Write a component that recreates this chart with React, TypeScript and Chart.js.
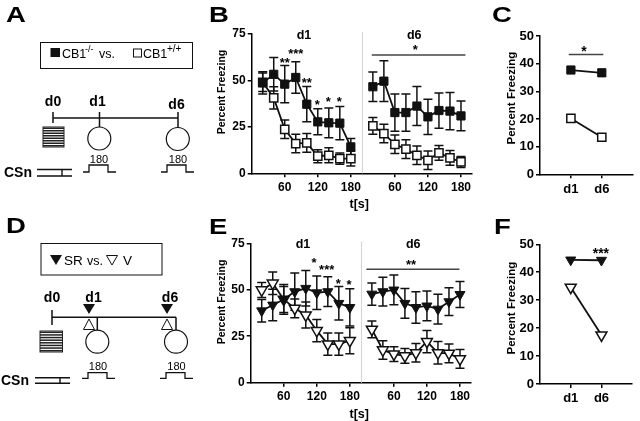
import React, { useEffect, useRef } from "react";
import Chart from "chart.js/auto";

const FONT = "'Liberation Sans', Arial, Helvetica, sans-serif";

// ---------- data ----------
const timeBins = [20, 40, 60, 80, 100, 120, 140, 160, 180];
const dayOffset = 200; // d6 time axis starts after d1 segment
const xTickValues = [60, 120, 180, 260, 320, 380];

// Panel B: CB1-/- (filled squares) vs CB1+/+ (open squares)
const bKoD1 = [48.7, 53.3, 48, 51.6, 37.2, 27.7, 27.2, 27, 14.2];
const bKoD1Err = [6, 9, 10, 8.5, 9.5, 7, 8, 9, 4.5];
const bWtD1 = [49, 40.6, 23.7, 16, 16.4, 9.2, 9.7, 7.9, 7.9];
const bWtD1Err = [5, 6, 5, 5, 5, 3.5, 4, 3, 4];
const bKoD6 = [46.6, 49.6, 32.7, 32.7, 36.2, 30.4, 33.8, 33.5, 30.9];
const bKoD6Err = [8, 11, 10, 10, 10.5, 9.5, 9.5, 10, 8];
const bWtD6 = [25.5, 21.4, 15.6, 13, 9.7, 7, 11, 8.3, 6.1];
const bWtD6Err = [4.5, 5, 5, 5, 5, 5, 4, 4, 3];

// Panel E: SR (filled triangles) vs V (open triangles)
const eSrD1 = [38.7, 41.8, 44.8, 49, 50.8, 48.4, 49, 42.7, 40.5];
const eSrD1Err = [6, 8.5, 7, 10, 9.5, 9, 8, 9, 10];
const eVD1 = [49.9, 53.5, 44.8, 40, 36.4, 28, 20.8, 20.8, 22.6];
const eVD1Err = [4, 6, 8, 5, 7, 6, 6, 6, 7];
const eSrD6 = [47.7, 49, 49.9, 42.7, 40.5, 41.3, 39.6, 43.6, 47.5];
const eSrD6Err = [6, 7.7, 8, 8, 8.5, 8, 8, 7.5, 7];
const eVD6 = [28.7, 17.6, 15.4, 14.4, 16.1, 22.1, 16.1, 15.8, 12.8];
const eVD6Err = [4.5, 5, 4, 4, 5, 6, 6, 5, 5];

// Panels C / F: mean freezing per day
const dayCats = ["d1", "d6"];
const dayPos = [1, 2];
const cKo = [37.7, 36.7];
const cWt = [20.2, 13.4];
const fSr = [44.4, 44.3];
const fV = [34.6, 17.5];

// significance annotations (data units)
const bStars = [
  { x: 60, y: 61.5, text: "**" },
  { x: 80, y: 66.2, text: "***" },
  { x: 100, y: 50.7, text: "**" },
  { x: 119, y: 38.6, text: "*" },
  { x: 139, y: 40.5, text: "*" },
  { x: 159, y: 40.1, text: "*" },
  { x: 297, y: 68.3, text: "*" },
];
const bSigLines = [{ x1: 218, x2: 388, y: 63.7 }];
const eStars = [
  { x: 115, y: 66.4, text: "*" },
  { x: 138, y: 62.4, text: "***" },
  { x: 159, y: 55.2, text: "*" },
  { x: 178.5, y: 54.7, text: "*" },
  { x: 291, y: 65.1, text: "**" },
];
const eSigLines = [{ x1: 210, x2: 379, y: 61 }];
const dayLabels = [
  { x: 95, text: "d1" },
  { x: 295, text: "d6" },
];
const cStars = [{ x: 1.42, y: 45.5, text: "*" }];
const cSigLines = [{ x1: 0.93, x2: 2.05, y: 43.3 }];
const fStars = [{ x: 1.98, y: 48, text: "***" }];

// ---------- helpers ----------
type Pt = { x: number; y: number | null };
function pairSeries(d1: number[], d6: number[]): Pt[] {
  return [
    ...timeBins.map((t, i) => ({ x: t, y: d1[i] })),
    { x: dayOffset, y: null },
    ...timeBins.map((t, i) => ({ x: t + dayOffset, y: d6[i] })),
  ];
}
function pairErr(e1: number[], e6: number[]) {
  return [...e1, null, ...e6];
}

const errorBarPlugin = {
  id: "errorBars",
  beforeDatasetsDraw(chart: any) {
    const ctx = chart.ctx;
    const ys = chart.scales.y;
    chart.data.datasets.forEach((ds: any, di: number) => {
      const errs = ds.errors;
      if (!errs) return;
      const meta = chart.getDatasetMeta(di);
      meta.data.forEach((pt: any, i: number) => {
        const v = ds.data[i].y;
        const e = errs[i];
        if (v == null || e == null) return;
        const x = pt.x;
        const yT = ys.getPixelForValue(v + e);
        const yB = ys.getPixelForValue(Math.max(v - e, 0));
        ctx.save();
        ctx.strokeStyle = "#111";
        ctx.lineWidth = 1.5;
        ctx.beginPath();
        ctx.moveTo(x, yT);
        ctx.lineTo(x, yB);
        ctx.moveTo(x - 4.5, yT);
        ctx.lineTo(x + 4.5, yT);
        ctx.moveTo(x - 4.5, yB);
        ctx.lineTo(x + 4.5, yB);
        ctx.stroke();
        ctx.restore();
      });
    });
  },
};

type AnnotCfg = {
  stars: { x: number; y: number; text: string }[];
  starSize: number;
  lines: { x1: number; x2: number; y: number }[];
  labels?: { x: number; text: string }[];
  sep?: number;
  yTitle: { dx: number; dy: number; size: number };
  xTitle?: { dx: number; dy: number; size: number };
};

function makeAnnot(cfg: AnnotCfg) {
  return {
    id: "annot",
    beforeDatasetsDraw(chart: any) {
      if (cfg.sep == null) return;
      const ctx = chart.ctx;
      const ca = chart.chartArea;
      const x = Math.round(chart.scales.x.getPixelForValue(cfg.sep)) + 0.5;
      ctx.save();
      ctx.strokeStyle = "#d4d4d4";
      ctx.lineWidth = 1;
      ctx.beginPath();
      ctx.moveTo(x, ca.top - 2);
      ctx.lineTo(x, ca.bottom);
      ctx.stroke();
      ctx.restore();
    },
    afterDraw(chart: any) {
      const ctx = chart.ctx;
      const ca = chart.chartArea;
      const xs = chart.scales.x;
      const ys = chart.scales.y;
      ctx.save();
      ctx.fillStyle = "#000";
      // significance lines
      ctx.strokeStyle = "#444";
      ctx.lineWidth = 1.5;
      cfg.lines.forEach((l) => {
        const y = ys.getPixelForValue(l.y);
        ctx.beginPath();
        ctx.moveTo(xs.getPixelForValue(l.x1), y);
        ctx.lineTo(xs.getPixelForValue(l.x2), y);
        ctx.stroke();
      });
      // stars
      ctx.font = `bold ${cfg.starSize}px ${FONT}`;
      ctx.textAlign = "center";
      ctx.textBaseline = "alphabetic";
      cfg.stars.forEach((s) => {
        ctx.fillText(s.text, xs.getPixelForValue(s.x), ys.getPixelForValue(s.y) + 0.575 * cfg.starSize);
      });
      // day labels
      if (cfg.labels) {
        ctx.font = `bold 12.5px ${FONT}`;
        cfg.labels.forEach((l) => {
          ctx.fillText(l.text, xs.getPixelForValue(l.x), ca.top + 0.36 * 12.5);
        });
      }
      // y title
      ctx.save();
      ctx.translate(ca.left + cfg.yTitle.dx, (ca.top + ca.bottom) / 2 + cfg.yTitle.dy);
      ctx.rotate(-Math.PI / 2);
      ctx.font = `bold ${cfg.yTitle.size}px ${FONT}`;
      ctx.textBaseline = "middle";
      ctx.fillText("Percent Freezing", 0, 0);
      ctx.restore();
      // x title
      if (cfg.xTitle) {
        ctx.font = `bold ${cfg.xTitle.size}px ${FONT}`;
        ctx.textBaseline = "middle";
        ctx.fillText("t[s]", ca.left + cfg.xTitle.dx, ca.bottom + cfg.xTitle.dy);
      }
      ctx.restore();
    },
  };
}

type Geo = { w: number; h: number; l: number; t: number; r: number; b: number };

function baseOptions(
  g: Geo,
  xMin: number,
  xMax: number,
  xTicks: number[],
  xLabel: (v: number) => string,
  yMax: number,
  yStep: number,
  xTickSize: number,
  yTickSize: number
) {
  const gridCfg = {
    display: true,
    drawOnChartArea: false,
    drawTicks: true,
    tickLength: 4,
    color: "#000",
    lineWidth: 1.5,
  };
  return {
    responsive: false,
    animation: false,
    events: [],
    layout: { padding: { left: 0, top: g.t, right: g.w - g.r, bottom: 0 } },
    plugins: { legend: { display: false }, tooltip: { enabled: false } },
    scales: {
      x: {
        type: "linear",
        min: xMin,
        max: xMax,
        afterBuildTicks: (s: any) => {
          s.ticks = xTicks.map((v) => ({ value: v }));
        },
        afterFit: (s: any) => {
          s.height = g.h - g.b;
        },
        ticks: {
          callback: (v: any) => xLabel(Number(v)),
          font: { family: FONT, size: xTickSize, weight: "bold" },
          color: "#000",
          padding: 3,
          maxRotation: 0,
          autoSkip: false,
        },
        grid: gridCfg,
        border: { display: true, color: "#000", width: 1.5 },
      },
      y: {
        type: "linear",
        min: 0,
        max: yMax,
        afterFit: (s: any) => {
          s.width = g.l;
        },
        ticks: {
          stepSize: yStep,
          font: { family: FONT, size: yTickSize, weight: "bold" },
          color: "#000",
          padding: 2,
        },
        grid: gridCfg,
        border: { display: true, color: "#000", width: 1.5 },
      },
    },
  };
}

function lineDs(data: Pt[], errors: any, style: string, filled: boolean, radius: number, rotation = 0) {
  return {
    data,
    errors,
    borderColor: "#111",
    backgroundColor: filled ? "#111" : "#fff",
    borderWidth: 1.8,
    pointStyle: style,
    pointRotation: rotation,
    pointRadius: radius,
    pointBorderWidth: filled ? 1 : 1.5,
    pointBackgroundColor: filled ? "#111" : "#fff",
    pointBorderColor: "#111",
    spanGaps: false,
    tension: 0,
  };
}

const timeLabel = (v: number) => String(v > dayOffset ? v - dayOffset : v);
const dayLabel = (v: number) => dayCats[dayPos.indexOf(v)] ?? "";

// ---------- chart builders ----------
const geoB: Geo = { w: 280, h: 195, l: 51.7, t: 14, r: 272, b: 153.3 };
const geoE: Geo = { w: 280, h: 191, l: 50.7, t: 13.3, r: 271, b: 152.7 };
const geoC: Geo = { w: 160, h: 180, l: 60, t: 16, r: 160, b: 154.3 };
const geoF: Geo = { w: 160, h: 191, l: 60, t: 14.3, r: 160, b: 154 };

function buildB() {
  return {
    type: "line",
    data: {
      datasets: [
        lineDs(pairSeries(bKoD1, bKoD6), pairErr(bKoD1Err, bKoD6Err), "rect", true, 5.8),
        lineDs(pairSeries(bWtD1, bWtD6), pairErr(bWtD1Err, bWtD6Err), "rect", false, 5.8),
      ],
    },
    options: baseOptions(geoB, 0, 400, xTickValues, timeLabel, 75, 25, 12, 12),
    plugins: [
      errorBarPlugin,
      makeAnnot({
        stars: bStars,
        starSize: 13,
        lines: bSigLines,
        labels: dayLabels,
        sep: dayOffset,
        yTitle: { dx: -29.7, dy: -11.6, size: 10.5 },
        xTitle: { dx: 107.5, dy: 31, size: 12.5 },
      }),
    ],
  };
}

function buildE() {
  return {
    type: "line",
    data: {
      datasets: [
        lineDs(pairSeries(eSrD1, eSrD6), pairErr(eSrD1Err, eSrD6Err), "triangle", true, 5.8, 180),
        lineDs(pairSeries(eVD1, eVD6), pairErr(eVD1Err, eVD6Err), "triangle", false, 6.3, 180),
      ],
    },
    options: baseOptions(geoE, 0, 400, xTickValues, timeLabel, 75, 25, 12, 12),
    plugins: [
      errorBarPlugin,
      makeAnnot({
        stars: eStars,
        starSize: 13,
        lines: eSigLines,
        labels: dayLabels,
        sep: dayOffset,
        yTitle: { dx: -28.7, dy: -11, size: 10.5 },
        xTitle: { dx: 108.5, dy: 32.3, size: 12.5 },
      }),
    ],
  };
}

function dayPts(vals: number[]): Pt[] {
  return dayPos.map((p, i) => ({ x: p, y: vals[i] }));
}

function buildC() {
  return {
    type: "line",
    data: {
      datasets: [
        lineDs(dayPts(cKo), null, "rect", true, 5.8),
        lineDs(dayPts(cWt), null, "rect", false, 5.8),
      ],
    },
    options: baseOptions(geoC, 0, 3, dayPos, dayLabel, 50, 10, 13, 13),
    plugins: [
      makeAnnot({
        stars: cStars,
        starSize: 14,
        lines: cSigLines,
        yTitle: { dx: -28, dy: -7, size: 11.5 },
      }),
    ],
  };
}

function buildF() {
  return {
    type: "line",
    data: {
      datasets: [
        lineDs(dayPts(fSr), null, "triangle", true, 5.8, 180),
        lineDs(dayPts(fV), null, "triangle", false, 6.3, 180),
      ],
    },
    options: baseOptions(geoF, 0, 3, dayPos, dayLabel, 50, 10, 13, 13),
    plugins: [
      makeAnnot({
        stars: fStars,
        starSize: 14,
        lines: [],
        yTitle: { dx: -28.3, dy: -6, size: 11.5 },
      }),
    ],
  };
}

function ChartBox({ left, top, geo, build }: { left: number; top: number; geo: Geo; build: () => any }) {
  const ref = useRef<HTMLCanvasElement>(null);
  useEffect(() => {
    const chart = new Chart(ref.current as HTMLCanvasElement, build());
    return () => chart.destroy();
  }, []);
  return (
    <div style={{ position: "absolute", left, top, width: geo.w, height: geo.h }}>
      <canvas ref={ref} width={geo.w} height={geo.h} style={{ width: geo.w, height: geo.h, display: "block" }} />
    </div>
  );
}

// ---------- schematics ----------
function Letter({ x, y, t }: { x: number; y: number; t: string }) {
  return (
    <text transform={`translate(${x} ${y}) scale(1.25 1)`} fontSize={22} fontWeight="bold" fill="#000">
      {t}
    </text>
  );
}

function Hatch({ x, y, w, h }: { x: number; y: number; w: number; h: number }) {
  const n = 8;
  const step = h / n;
  return (
    <g>
      <rect x={x} y={y} width={w} height={h} fill="#fff" stroke="#222" strokeWidth={1} />
      {Array.from({ length: n }, (_, k) => (
        <line key={k} x1={x} x2={x + w} y1={y + step * (k + 0.5)} y2={y + step * (k + 0.5)} stroke="#222" strokeWidth={1.5} />
      ))}
    </g>
  );
}

function Pulse({ x, yLow, yHigh }: { x: number; yLow: number; yHigh: number }) {
  const pts = [
    [x, yLow],
    [x + 6, yLow],
    [x + 6, yHigh],
    [x + 25, yHigh],
    [x + 25, yLow],
    [x + 33, yLow],
  ]
    .map((p) => p.join(","))
    .join(" ");
  return <polyline points={pts} fill="none" stroke="#111" strokeWidth={1.3} />;
}

function CsnLines({ x1, x2, y1, y2, tx }: { x1: number; x2: number; y1: number; y2: number; tx: number }) {
  return (
    <g stroke="#111" strokeWidth={1.4}>
      <line x1={x1} x2={x2} y1={y1} y2={y1} />
      <line x1={x1} x2={x2} y1={y2} y2={y2} />
      <line x1={tx} x2={tx} y1={y1} y2={y2} />
    </g>
  );
}

function Schematics() {
  return (
    <svg
      width={640}
      height={421}
      style={{ position: "absolute", left: 0, top: 0, pointerEvents: "none" }}
      fontFamily={FONT}
    >
      <Letter x={6} y={22} t="A" />
      <Letter x={209} y={22} t="B" />
      <Letter x={492} y={22} t="C" />
      <Letter x={6} y={233} t="D" />
      <Letter x={209} y={234} t="E" />
      <Letter x={494} y={234} t="F" />

      {/* Panel A */}
      <rect x={40.5} y={42.5} width={152} height={26} fill="none" stroke="#111" strokeWidth={1} />
      <rect x={50.5} y={48} width={9.5} height={9} fill="#111" />
      <text x={62} y={57.5} fontSize={12.5}>CB1</text>
      <text x={85} y={52} fontSize={9}>-/-</text>
      <text x={99} y={57.5} fontSize={12.5}>vs.</text>
      <rect x={133.5} y={49} width={8} height={8} fill="none" stroke="#111" strokeWidth={1} />
      <text x={143} y={57.5} fontSize={12.5}>CB1</text>
      <text x={167} y={52} fontSize={10}>+/+</text>

      <text x={53} y={106} fontSize={14} fontWeight="bold" textAnchor="middle">d0</text>
      <text x={97.5} y={106} fontSize={14} fontWeight="bold" textAnchor="middle">d1</text>
      <text x={176.5} y={109} fontSize={14} fontWeight="bold" textAnchor="middle">d6</text>
      <g stroke="#111" strokeWidth={1.5}>
        <line x1={53} x2={178} y1={118} y2={118} />
        <line x1={53} x2={53} y1={112} y2={123} />
        <line x1={99.5} x2={99.5} y1={112} y2={127} />
        <line x1={178} x2={178} y1={112} y2={127.5} />
      </g>
      <Hatch x={43} y={127} w={21} h={20} />
      <circle cx={99.3} cy={138.5} r={11.5} fill="#fff" stroke="#111" strokeWidth={1.2} />
      <circle cx={177.8} cy={139} r={11.5} fill="#fff" stroke="#111" strokeWidth={1.2} />
      <text x={99} y={163} fontSize={11} textAnchor="middle">180</text>
      <text x={178} y={163} fontSize={11} textAnchor="middle">180</text>
      <Pulse x={83} yLow={172} yHigh={165} />
      <Pulse x={161} yLow={172} yHigh={165} />
      <text x={4} y={177} fontSize={14} fontWeight="bold">CSn</text>
      <CsnLines x1={37} x2={72} y1={169.5} y2={176} tx={62} />

      {/* Panel D */}
      <rect x={41} y={243.5} width={121} height={31.5} fill="none" stroke="#111" strokeWidth={1} />
      <polygon points="50,255 62,255 56,265" fill="#111" />
      <text x={64} y={265} fontSize={13.5}>SR</text>
      <text x={87} y={265} fontSize={12.5}>vs.</text>
      <polygon points="106.5,255.5 117.5,255.5 112,265" fill="none" stroke="#111" strokeWidth={1} />
      <text x={123} y={265} fontSize={13.5}>V</text>

      <text x={52} y={302} fontSize={14} fontWeight="bold" textAnchor="middle">d0</text>
      <text x={93.5} y={302} fontSize={14} fontWeight="bold" textAnchor="middle">d1</text>
      <text x={170} y={302} fontSize={14} fontWeight="bold" textAnchor="middle">d6</text>
      <g stroke="#111" strokeWidth={1.5}>
        <line x1={52} x2={176} y1={317.3} y2={317.3} />
        <line x1={52} x2={52} y1={310} y2={325} />
        <line x1={97.3} x2={97.3} y1={317.3} y2={330} />
        <line x1={176} x2={176} y1={317.3} y2={330} />
      </g>
      <polygon points="83,304 95,304 89,314" fill="#111" />
      <polygon points="161,304 173,304 167,314" fill="#111" />
      <polygon points="83.5,329.5 94.5,329.5 89,319" fill="#fff" stroke="#111" strokeWidth={1} />
      <polygon points="161.5,329.5 172.5,329.5 167,319" fill="#fff" stroke="#111" strokeWidth={1} />
      <Hatch x={40} y={331} w={22.5} h={21} />
      <circle cx={97.3} cy={341.7} r={11.5} fill="#fff" stroke="#111" strokeWidth={1.2} />
      <circle cx={176} cy={341.7} r={11.5} fill="#fff" stroke="#111" strokeWidth={1.2} />
      <text x={98} y={370} fontSize={11} textAnchor="middle">180</text>
      <text x={176.5} y={370} fontSize={11} textAnchor="middle">180</text>
      <Pulse x={82} yLow={378.3} yHigh={372.7} />
      <Pulse x={160} yLow={378.3} yHigh={372.7} />
      <text x={1} y={385} fontSize={14} fontWeight="bold">CSn</text>
      <CsnLines x1={35} x2={70} y1={377.7} y2={383.3} tx={60} />
    </svg>
  );
}

export default function App() {
  return (
    <div
      style={{
        position: "absolute",
        left: 0,
        top: 0,
        width: 640,
        height: 421,
        background: "#fff",
        overflow: "hidden",
        fontFamily: FONT,
      }}
    >
      <ChartBox left={200} top={20} geo={geoB} build={buildB} />
      <ChartBox left={480} top={20} geo={geoC} build={buildC} />
      <ChartBox left={200} top={230} geo={geoE} build={buildE} />
      <ChartBox left={480} top={230} geo={geoF} build={buildF} />
      <Schematics />
    </div>
  );
}
